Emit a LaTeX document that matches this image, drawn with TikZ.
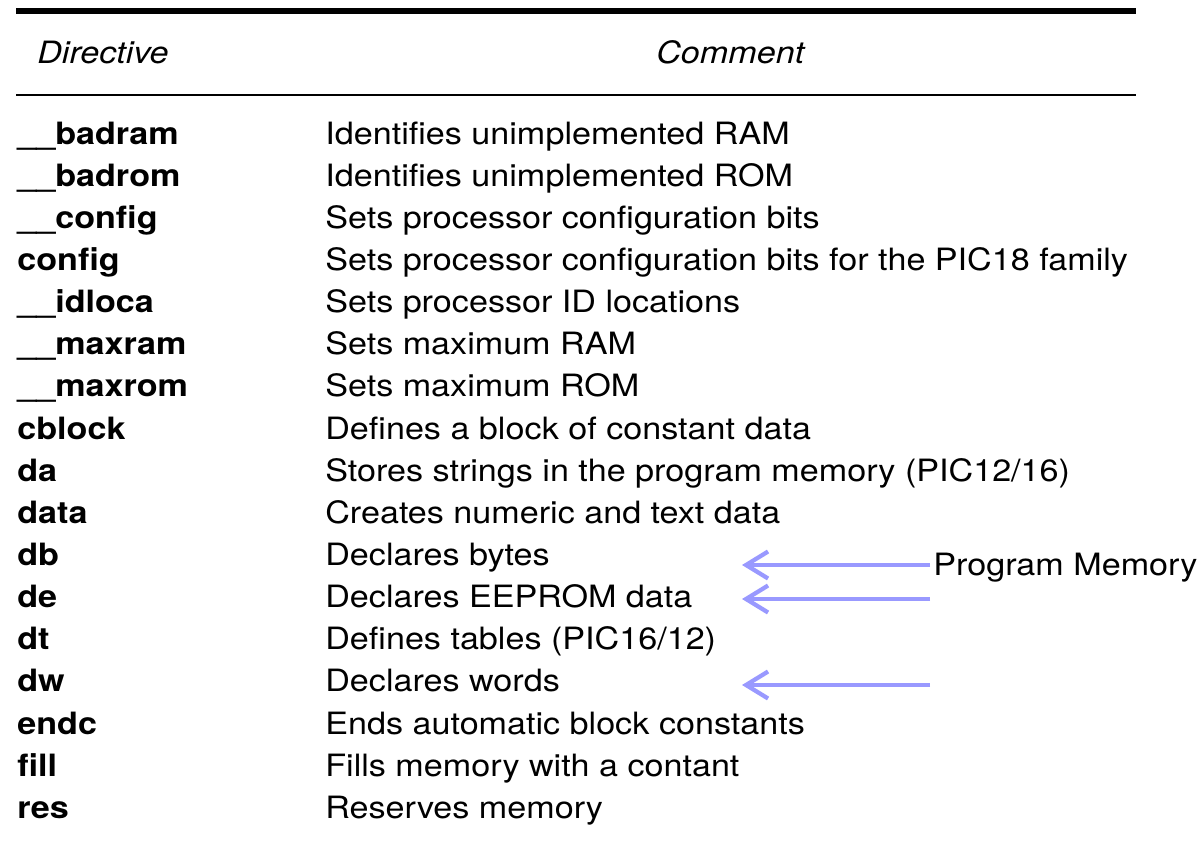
\documentclass[tikz,border=0pt]{standalone}
\usepackage{fontspec}
\setmainfont{TeX Gyre Heros}[FakeStretch=1.11]
\usetikzlibrary{arrows.meta}
\definecolor{memblue}{RGB}{153,153,255}

\begin{document}
\begin{tikzpicture}[x=0.02cm,y=-0.02cm,line cap=butt,
  every node/.style={inner sep=0pt,font=\fontsize{17.5}{21}\selectfont},
  headtext/.style={anchor=base west,font=\fontsize{17.5}{21}\selectfont\itshape},
  dirtext/.style={anchor=base west,font=\fontsize{17.5}{21}\selectfont\bfseries},
  comtext/.style={anchor=base west},
  memarrow/.style={draw=memblue,line width=0.085cm,-{Straight Barb[length=0.44cm,width=0.54cm]}}]
  \useasboundingbox (0,0) rectangle (1198,843);
  \def\dy{42.15}
  \def\ytop{144}
  \draw[line width=0.11cm] (16,11) -- (1136,11);
  \node[headtext] (hdir) at (37,63) {Directive};
  \node[headtext] (hcom) at (656,63) {Comment};
  \draw[line width=0.035cm] (16,95) -- (1136,95);
  \foreach \d/\c [count=\i] in {
    \_\_badram/Identifies unimplemented RAM,
    \_\_badrom/Identifies unimplemented ROM,
    \_\_config/Sets processor configuration bits,
    config/Sets processor configuration bits for the PIC18 family,
    \_\_idloca/Sets processor ID locations,
    \_\_maxram/Sets maximum RAM,
    \_\_maxrom/Sets maximum ROM,
    cblock/Defines a block of constant data,
    da/{Stores strings in the program memory (PIC12/16)},
    data/Creates numeric and text data,
    db/Declares bytes,
    de/Declares EEPROM data,
    dt/{Defines tables (PIC16/12)},
    dw/Declares words,
    endc/Ends automatic block constants,
    fill/Fills memory with a contant,
    res/Reserves memory}{
    \node[dirtext] (dir\i) at (17,{\ytop+(\i-1)*\dy}) {\d};
    \node[comtext] (com\i) at (325,{\ytop+(\i-1)*\dy}) {\c};
  }
  \node[anchor=base west] (pm) at (933,575) {Program Memory};
  \path (pm.base west) ++(-3,-10) coordinate (startdb) ++(-188,0) coordinate (tipdb);
  \coordinate (startde) at (930,599);
  \coordinate (tipde) at (742,599);
  \coordinate (startdw) at (930,685);
  \coordinate (tipdw) at (742,685);
  \draw[memarrow] (startdb) -- (tipdb);
  \draw[memarrow] (startde) -- (tipde);
  \draw[memarrow] (startdw) -- (tipdw);
\end{tikzpicture}
\end{document}
